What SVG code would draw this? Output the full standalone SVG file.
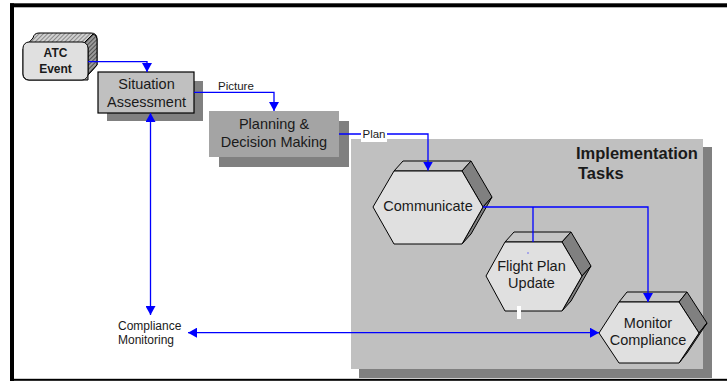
<svg xmlns="http://www.w3.org/2000/svg" width="727" height="381" viewBox="0 0 727 381">
<defs>
<style>
text{font-family:"Liberation Sans",Arial,sans-serif;fill:#1a1a1a}
.nt{font-size:14.5px;text-anchor:middle}
.lb{font-size:11.5px}
.bt{font-weight:bold}
.face{stroke:#000;stroke-width:1;stroke-linejoin:round}
.top{fill:#c4c4c4}
.side{fill:#808080}
.front{fill:#e0e0e0}
.con{fill:none;stroke:#0000ff;stroke-width:1.3}
</style>
<pattern id="hatchL" width="3" height="3" patternUnits="userSpaceOnUse" patternTransform="rotate(45)">
<rect width="3" height="3" fill="#d0d0d0"/><rect width="1" height="3" fill="#8a8a8a"/>
</pattern>
<pattern id="hatchD" width="3" height="3" patternUnits="userSpaceOnUse" patternTransform="rotate(45)">
<rect width="3" height="3" fill="#9a9a9a"/><rect width="1" height="3" fill="#505050"/>
</pattern>
<marker id="arr" markerUnits="userSpaceOnUse" markerWidth="9" markerHeight="10" refX="9" refY="5" orient="auto-start-reverse">
<path d="M0,0 L9,5 L0,10 z" fill="#0000ff"/>
</marker>
</defs>
<rect width="727" height="381" fill="#fff"/>
<!-- frame -->
<g id="frame">
<rect x="10" y="3.3" width="717" height="4" fill="#000"/>
<rect x="10" y="3.3" width="4" height="377.7" fill="#000"/>
<rect x="10" y="378.8" width="717" height="2" fill="#000"/>
</g>
<!-- Implementation panel -->
<g id="implementation-tasks">
<rect x="359" y="147" width="353" height="231" fill="#808080"/>
<rect x="351" y="139" width="352" height="230" fill="#c0c0c0"/>
<text class="bt" x="576" y="159.3" style="font-size:16.5px">Implementation</text>
<text class="bt" x="578" y="179.3" style="font-size:16.5px">Tasks</text>
</g>
<!-- ATC Event -->
<g id="atc-event">
<path class="face" fill="url(#hatchL)" d="M23,49 L33,38 Q34,33 39,33 L91,33 Q97,33 97,39 L97,65 L88,75 L88,80 L29,80 Q23,80 23,74 Z"/>
<path class="face" fill="url(#hatchD)" d="M84,43 L93,34 Q97,35 97,39 L97,65 L88,75 L88,48 Z"/>
<rect class="face" x="23" y="42" width="65" height="38" rx="6" fill="#e0e0e0"/>
<text class="bt" x="55.5" y="57.3" text-anchor="middle" style="font-size:12px">ATC</text>
<text class="bt" x="55.5" y="73.3" text-anchor="middle" style="font-size:12px">Event</text>
</g>
<!-- Situation Assessment -->
<g id="situation-assessment">
<rect x="107" y="81" width="96" height="40" fill="#808080"/>
<rect x="98" y="72" width="96" height="41" fill="#c0c0c0" stroke="#000" stroke-width="1.2"/>
<text class="nt" x="146.5" y="89.3">Situation</text>
<text class="nt" x="146.5" y="106.7">Assessment</text>
</g>
<!-- Planning & Decision Making -->
<g id="planning">
<rect x="219" y="121" width="130" height="46" fill="#808080"/>
<rect x="209" y="111" width="130" height="46" fill="#a4a4a4"/>
<text class="nt" x="274" y="129.3">Planning &amp;</text>
<text class="nt" x="274" y="146.7">Decision Making</text>
</g>
<!-- Communicate -->
<g id="communicate">
<polygon class="face top" points="394,171 403,161 471,161 462,171"/>
<polygon class="face side" points="462,171 471,161 492,197 483,207"/>
<polygon class="face side" points="483,207 492,197 471,234 462,244"/>
<polygon class="face front" points="373,207 394,171 462,171 483,207 462,244 394,244"/>
<text class="nt" x="428" y="211">Communicate</text>
</g>
<!-- Flight Plan Update -->
<g id="flight-plan-update">
<polygon class="face top" points="505,242 514,232 571,232 562,242"/>
<polygon class="face side" points="562,242 571,232 591,266 582,276"/>
<polygon class="face side" points="582,276 591,266 571,301 562,311"/>
<polygon class="face front" points="486,276 505,242 562,242 582,276 562,311 505,311"/>
<text class="nt" x="531.5" y="271">Flight Plan</text>
<text class="nt" x="531.5" y="288.3">Update</text>
<rect x="527.5" y="252.5" width="1" height="1" fill="#0000ff"/>
<rect x="517" y="306" width="4" height="13" fill="#fff"/>
</g>
<!-- Monitor Compliance -->
<g id="monitor-compliance">
<polygon class="face top" points="619,302 627,292 687,292 679,302"/>
<polygon class="face side" points="679,302 687,292 707,323 699,333"/>
<polygon class="face side" points="699,333 707,323 687,353 679,363"/>
<polygon class="face front" points="599,333 619,302 679,302 699,333 679,363 619,363"/>
<text class="nt" x="648" y="327.7">Monitor</text>
<text class="nt" x="648" y="345">Compliance</text>
</g>
<!-- Compliance Monitoring -->
<g id="compliance-monitoring">
<text x="118" y="330" style="font-size:12px">Compliance</text>
<text x="118" y="344" style="font-size:12px">Monitoring</text>
</g>
<!-- connectors -->
<g id="connectors">
<path class="con" d="M88,61.7 H147 V72" marker-end="url(#arr)"/>
<path class="con" d="M194,92.3 H274 V111" marker-end="url(#arr)"/>
<path class="con" d="M339,134 H428 V170.5" marker-end="url(#arr)"/>
<path class="con" d="M483,207 H648 V302" marker-end="url(#arr)"/>
<path class="con" d="M533,207 V242"/>
<path class="con" d="M150.5,113 V315" marker-start="url(#arr)" marker-end="url(#arr)"/>
<path class="con" d="M188,332.7 H599" marker-start="url(#arr)" marker-end="url(#arr)"/>
<rect x="361" y="128" width="26" height="14" fill="#fff"/>
<text class="lb" x="362.5" y="138">Plan</text>
<text class="lb" x="218" y="89.5">Picture</text>
</g>
</svg>
